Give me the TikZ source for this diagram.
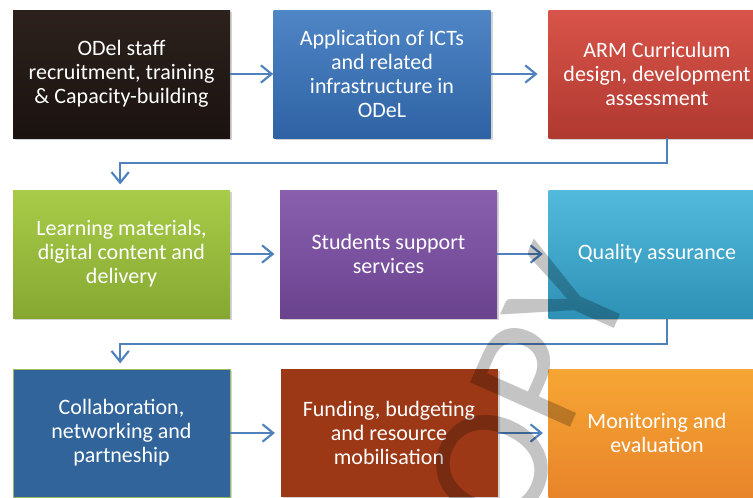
\documentclass[tikz,border=0pt]{standalone}
\usepackage{fontspec}
\setmainfont{Carlito}
\usetikzlibrary{arrows.meta,calc,shadows}
\definecolor{arrowblue}{HTML}{4F81BD}
\definecolor{staffTop}{HTML}{2C211D}\definecolor{staffBot}{HTML}{1B1310}
\definecolor{ictTop}{HTML}{4F86C6}\definecolor{ictBot}{HTML}{2E62A4}
\definecolor{armTop}{HTML}{D9544A}\definecolor{armBot}{HTML}{B03930}
\definecolor{learnTop}{HTML}{A8CC48}\definecolor{learnBot}{HTML}{86A832}
\definecolor{supportTop}{HTML}{8A60AE}\definecolor{supportBot}{HTML}{6A438F}
\definecolor{qualityTop}{HTML}{52BADD}\definecolor{qualityBot}{HTML}{2E91B6}
\definecolor{collabFill}{HTML}{30649A}\definecolor{collabLine}{HTML}{9BBB59}
\definecolor{fundFill}{HTML}{9C3816}
\definecolor{monitorTop}{HTML}{F6A634}\definecolor{monitorBot}{HTML}{E8842A}
\tikzset{
  stage/.style={rectangle, minimum width=162.75pt, minimum height=96pt, align=center, text=white,
    font=\fontsize{16.5pt}{18pt}\selectfont, inner sep=0pt,
    drop shadow={opacity=0.35, shadow xshift=1.5pt, shadow yshift=-1.5pt}},
  flow/.style={draw=arrowblue, line width=1.6pt, -{Straight Barb[length=8pt,width=13pt,line width=1.6pt]}}
}
\begin{document}
\begin{tikzpicture}[x=0.75pt,y=0.75pt,yscale=-1,xscale=1]
\useasboundingbox (0,0) rectangle (753,497);
\clip (0,0) rectangle (753,497);
\node [stage, top color=staffTop, bottom color=staffBot] (staff) at (121.5,74) {ODel staff\\recruitment, training\\\& Capacity-building};
\node [stage, top color=ictTop, bottom color=ictBot] (ict) at (382,74) {Application of ICTs\\and related\\infrastructure in\\ODeL};
\node [stage, top color=armTop, bottom color=armBot] (arm) at (657,74) {ARM Curriculum\\design, development\\assessment};
\node [stage, top color=learnTop, bottom color=learnBot] (learn) at (121.5,254) {Learning materials,\\digital content and\\delivery};
\node [stage, top color=supportTop, bottom color=supportBot] (support) at (388.5,254) {Students support\\services};
\node [stage, top color=qualityTop, bottom color=qualityBot] (quality) at (657,254) {Quality assurance};
\node [stage, fill=collabFill, draw=collabLine, line width=0.6pt] (collab) at (121.5,433) {Collaboration,\\networking and\\partneship};
\node [stage, fill=fundFill] (fund) at (389,433) {Funding, budgeting\\and resource\\mobilisation};
\node [stage, top color=monitorTop, bottom color=monitorBot] (monitor) at (657,433) {Monitoring and\\evaluation};
\draw [flow] (staff) -- (ict);
\draw [flow, shorten >=8pt] (ict) -- (arm);
\draw [flow, shorten >=4pt] ($(arm.south)+(10,0)$) -- ++(0,25) -| ([xshift=-1pt]learn.north);
\draw [flow, shorten >=4pt] (learn) -- (support);
\draw [flow, shorten >=4pt] (support) -- (quality);
\draw [flow, shorten >=4pt] ($(quality.south)+(10,0)$) -- ++(0,26) -| ([xshift=-1pt]collab.north);
\draw [flow, shorten >=4pt] (collab) -- (fund);
\draw [flow, shorten >=4pt] (fund) -- (monitor);
\node [rotate=66, anchor=base west, text=black, text opacity=0.23, font=\fontsize{128pt}{128pt}\selectfont, inner sep=0pt] (stamp) at (483,624) {COPY};
\end{tikzpicture}
\end{document}
